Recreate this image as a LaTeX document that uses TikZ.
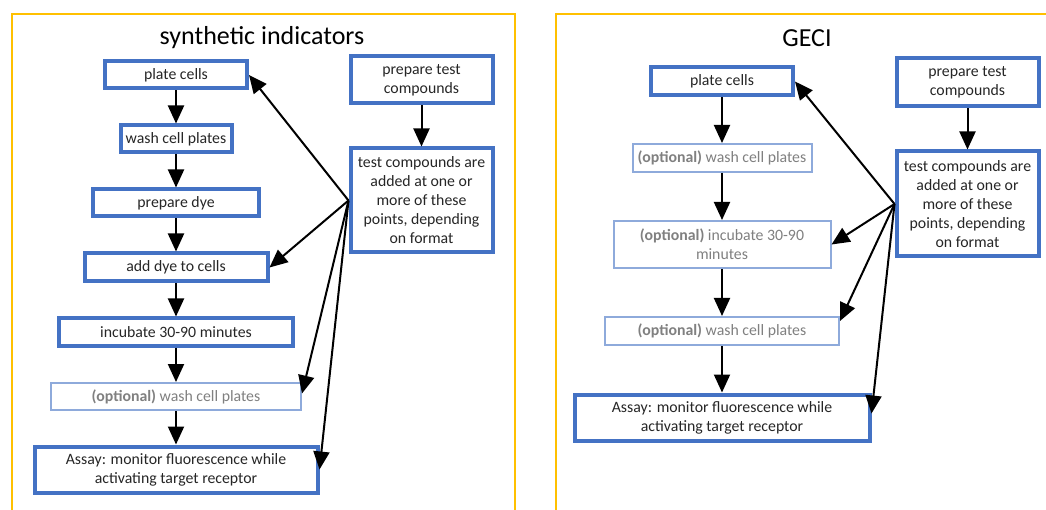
\documentclass[tikz,border=0pt]{standalone}
\usepackage{fontspec}
\setmainfont{Carlito}
\usetikzlibrary{arrows.meta,positioning}
\definecolor{boxblue}{HTML}{4472C4}
\definecolor{optblue}{HTML}{8EAADB}
\definecolor{optgray}{HTML}{808080}
\definecolor{framegold}{HTML}{FFC000}
\tikzset{
  wh/.style 2 args={minimum width=#1pt, minimum height=#2pt},
  stepbox/.style={
    draw=boxblue, line width=4pt, fill=white,
    inner sep=0pt, align=center, text=black!85,
    font=\fontsize{15.8}{19}\selectfont
  },
  optbox/.style={
    stepbox, draw=optblue, line width=2pt, text=optgray
  },
  heading/.style={font=\fontsize{26}{30}\selectfont},
  flow/.style={->, line width=2pt}
}
\newcommand{\opt}{\textbf{(optional)}}

\begin{document}
\begin{tikzpicture}[x=1pt,y=-1pt,>={Triangle[length=18pt,width=16pt]}]
\useasboundingbox (0,0) rectangle (1046,510);
\clip (0,0) rectangle (1046,510);
\draw[framegold, line width=2pt] (12,14) rectangle (515,530);
\draw[framegold, line width=2pt] (556,14) rectangle (1070,530);

\node[heading] (sTitle) at (262,38) {synthetic indicators};
\node[stepbox, wh={142}{27}] (sPlate) at (176,75) {plate cells};
\node[stepbox, wh={111}{27}] (sWash) at (176,139) {wash cell plates};
\node[stepbox, wh={166}{27}] (sDye) at (176,203) {prepare dye};
\node[stepbox, wh={183}{28}] (sAdd) at (176,267.5) {add dye to cells};
\node[stepbox, wh={234}{27}] (sInc) at (176,332) {incubate 30-90 minutes};
\node[optbox, wh={250}{27}] (sOpt) at (176,396.5) {\opt{} wash cell plates};
\node[stepbox, wh={283}{46}] (sAssay) at (176,469.5)
  {Assay: monitor fluorescence while\\activating target receptor};
\node[stepbox, wh={142}{47}] (sPrep) at (421.5,80) {prepare test\\compounds};
\node[stepbox, wh={142}{104}] (sTest) at (421.5,200.5)
  {test compounds are\\added at one or\\more of these\\points, depending\\on format};

\draw[flow] (sPlate) -- (sWash);
\draw[flow] (sWash) -- (sDye);
\draw[flow] (sDye) -- (sAdd);
\draw[flow] (sAdd) -- (sInc);
\draw[flow] (sInc) -- (sOpt);
\draw[flow] (sOpt) -- (sAssay);
\draw[flow] (sPrep) -- (sTest);
\draw[flow] (sTest.west) -- (sPlate.east);
\draw[flow] (sTest.west) -- (sAdd.east);
\draw[flow] (sTest.west) -- ([yshift=3pt]sOpt.east);
\draw[flow] (sTest.west) -- (sAssay.east);

\node[heading] (gTitle) at (807,38) {GECI};
\node[stepbox, wh={142}{28}] (gPlate) at (722,81.5) {plate cells};
\node[optbox, wh={179}{28}] (gWash) at (722,158) {\opt{} wash cell plates};
\node[optbox, wh={217}{47}] (gInc) at (722,244.5) {\opt{} incubate 30-90\\minutes};
\node[optbox, wh={234}{28}] (gWashB) at (722,331) {\opt{} wash cell plates};
\node[stepbox, wh={295}{46}] (gAssay) at (722,417.5)
  {Assay: monitor fluorescence while\\activating target receptor};
\node[stepbox, wh={142}{48}] (gPrep) at (967.5,82.5) {prepare test\\compounds};
\node[stepbox, wh={142}{105}] (gTest) at (967.5,204)
  {test compounds are\\added at one or\\more of these\\points, depending\\on format};

\draw[flow] (gPlate) -- (gWash);
\draw[flow] (gWash) -- (gInc);
\draw[flow] (gInc) -- (gWashB);
\draw[flow] (gWashB) -- (gAssay);
\draw[flow] (gPrep) -- (gTest);
\draw[flow] (gTest.west) -- (gPlate.east);
\draw[flow] (gTest.west) -- (gInc.east);
\draw[flow] (gTest.west) -- ([yshift=10pt]gWashB.east);
\draw[flow] (gTest.west) -- ([yshift=4pt]gAssay.east);
\end{tikzpicture}
\end{document}
